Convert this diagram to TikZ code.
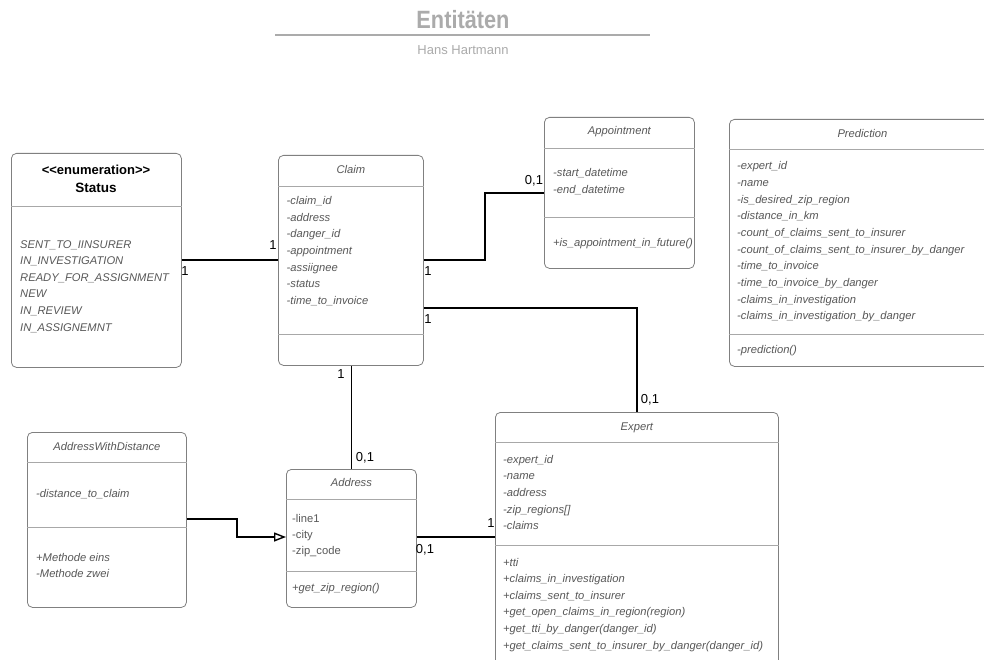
\documentclass[tikz,border=0pt]{standalone}
\usepackage{fontspec}
\usepackage{graphicx}
\setmainfont{Liberation Sans}
\usetikzlibrary{arrows.meta}
\definecolor{txt}{HTML}{585858}
\definecolor{bord}{HTML}{808080}
\definecolor{divc}{HTML}{A8A8A8}
\definecolor{ttl}{HTML}{ABABAB}
\begin{document}
\begin{tikzpicture}[x=1pt,y=-1pt,
 umlbox/.style={draw=bord, line width=0.8pt, rounded corners=5pt, fill=white, inner sep=0pt, anchor=north west},
 divline/.style={draw=divc, line width=0.8pt},
 attr/.style={font=\fontsize{11.2}{13}\selectfont\itshape, text=txt, inner sep=0pt, anchor=base west},
 attrup/.style={font=\fontsize{11.2}{13}\selectfont, text=txt, inner sep=0pt, anchor=base west},
 cls/.style={font=\fontsize{11.2}{13}\selectfont\itshape, text=txt, inner sep=0pt, anchor=base},
 conn/.style={draw=black, line width=1.8pt},
 mult/.style={font=\fontsize{13}{15}\selectfont, text=black, inner sep=0pt, anchor=base},
]
\clip (0,0) rectangle (984,660);
\fill[white] (0,0) rectangle (984,660);

% title
\node[font=\fontsize{25}{28}\selectfont\bfseries, text=ttl, inner sep=0pt, anchor=base] (title) at (463,29) {\scalebox{0.87}[1]{Entitäten}};
\draw[draw=ttl, line width=1.5pt] (275,35) -- (650,35);
\node[font=\fontsize{13}{15}\selectfont, text=ttl, inner sep=0pt, anchor=base] (author) at (463,54.7) {Hans Hartmann};

% boxes
\node[umlbox, minimum width=170, minimum height=214] (status) at (11,153) {};
\node[umlbox, minimum width=145, minimum height=210] (claim) at (278,155) {};
\node[umlbox, minimum width=150, minimum height=151] (appt) at (544,117) {};
\node[umlbox, minimum width=266, minimum height=247] (pred) at (729,119) {};
\node[umlbox, minimum width=159, minimum height=175] (awd) at (27,432) {};
\node[umlbox, minimum width=130, minimum height=138] (address) at (286,469) {};
\node[umlbox, minimum width=283, minimum height=288] (expert) at (495,412) {};

% dividers
\draw[divline] (status.west |- 0,206) -- (status.east |- 0,206);
\draw[divline] (claim.west |- 0,186) -- (claim.east |- 0,186);
\draw[divline] (claim.west |- 0,334) -- (claim.east |- 0,334);
\draw[divline] (appt.west |- 0,148) -- (appt.east |- 0,148);
\draw[divline] (appt.west |- 0,217) -- (appt.east |- 0,217);
\draw[divline] (pred.west |- 0,149) -- (pred.east |- 0,149);
\draw[divline] (pred.west |- 0,334) -- (pred.east |- 0,334);
\draw[divline] (awd.west |- 0,462) -- (awd.east |- 0,462);
\draw[divline] (awd.west |- 0,527) -- (awd.east |- 0,527);
\draw[divline] (address.west |- 0,499) -- (address.east |- 0,499);
\draw[divline] (address.west |- 0,571) -- (address.east |- 0,571);
\draw[divline] (expert.west |- 0,442) -- (expert.east |- 0,442);
\draw[divline] (expert.west |- 0,545) -- (expert.east |- 0,545);

% Status
\node[font=\fontsize{13}{15}\selectfont\bfseries, inner sep=0pt, anchor=base] (st-h1) at (96,174.5) {<\kern0pt<enumeration>\kern0pt>};
\node[font=\fontsize{13.5}{15}\selectfont\bfseries, inner sep=0pt, anchor=base] (st-h2) at (96,192.8) {Status};
\foreach \t [count=\i] in {SENT\_TO\_IINSURER,IN\_INVESTIGATION,READY\_FOR\_ASSIGNMENT,NEW,IN\_REVIEW,IN\_ASSIGNEMNT}
  \node[attr] (st-\i) at (20,{248+16.6*(\i-1)}) {\t};

% Claim
\node[cls] (cl-t) at (claim.north |- 0,174) {Claim};
\foreach \t [count=\i] in {-claim\_id,-address,-danger\_id,-appointment,-assiignee,-status,-time\_to\_invoice}
  \node[attr] (cl-\i) at (286.5,{204.5+16.65*(\i-1)}) {\t};

% Appointment
\node[cls] (ap-t) at (appt.north |- 0,135) {Appointment};
\node[attr] (ap-1) at (553,177) {-start\_datetime};
\node[attr] (ap-2) at (553,194) {-end\_datetime};
\node[attr] (ap-m) at (553,247) {+is\_appointment\_in\_future()};

% Prediction
\node[cls] (pr-t) at (pred.north |- 0,138) {Prediction};
\foreach \t [count=\i] in {-expert\_id,-name,-is\_desired\_zip\_region,-distance\_in\_km,-count\_of\_claims\_sent\_to\_insurer,-count\_of\_claims\_sent\_to\_insurer\_by\_danger,-time\_to\_invoice,-time\_to\_invoice\_by\_danger,-claims\_in\_investigation,-claims\_in\_investigation\_by\_danger}
  \node[attr] (pr-\i) at (737,{170+16.65*(\i-1)}) {\t};
\node[attr] (pr-m) at (737,353) {-prediction()};

% AddressWithDistance
\node[cls] (aw-t) at (awd.north |- 0,450) {AddressWithDistance};
\node[attr] (aw-1) at (36,497) {-distance\_to\_claim};
\node[attr] (aw-m1) at (36,561) {+Methode eins};
\node[attr] (aw-m2) at (36,577) {-Methode zwei};

% Address
\node[cls] (ad-t) at (address.north |- 0,486) {Address};
\node[attrup] (ad-1) at (292,522) {-line1};
\node[attrup] (ad-2) at (292,538) {-city};
\node[attrup] (ad-3) at (292,554) {-zip\_code};
\node[attr] (ad-m) at (292,591) {+get\_zip\_region()};

% Expert
\node[cls] (ex-t) at (expert.north |- 0,430) {Expert};
\foreach \t [count=\i] in {-expert\_id,-name,-address,-zip\_regions[],-claims}
  \node[attr] (ex-\i) at (503,{463+16.7*(\i-1)}) {\t};
\foreach \t [count=\i] in {+tti,+claims\_in\_investigation,+claims\_sent\_to\_insurer,+get\_open\_claims\_in\_region(region),+get\_tti\_by\_danger(danger\_id),+get\_claims\_sent\_to\_insurer\_by\_danger(danger\_id)}
  \node[attr] (exm-\i) at (503,{566+16.6*(\i-1)}) {\t};

% connectors
\draw[conn] (status.east |- 0,260) -- (claim.west |- 0,260);
\draw[conn] (claim.east |- 0,260) -- ++(61,0) |- (appt.west |- 0,193);
\draw[conn] (claim.east |- 0,308) -| (expert.north);
\draw[conn] (address.north |- claim.south) -- (address.north);
\draw[conn] (address.east |- 0,537) -- (expert.west |- 0,537);
\draw[conn, -{Triangle[open, length=12pt, width=9pt, line width=1.4pt]}] (awd.east |- 0,519) -- ++(50,0) |- (address.west |- 0,537);

% multiplicities
\node[mult] (m1) at (185,275.5) {1};
\node[mult] (m2) at (273,249.5) {1};
\node[mult] (m3) at (428,275.5) {1};
\node[mult] (m4) at (534,184.5) {0,1};
\node[mult] (m5) at (428,323.5) {1};
\node[mult] (m6) at (650,403.5) {0,1};
\node[mult] (m7) at (341,378.5) {1};
\node[mult] (m8) at (365,461.5) {0,1};
\node[mult] (m9) at (425,553.5) {0,1};
\node[mult] (m10) at (491,527.5) {1};
\end{tikzpicture}
\end{document}
